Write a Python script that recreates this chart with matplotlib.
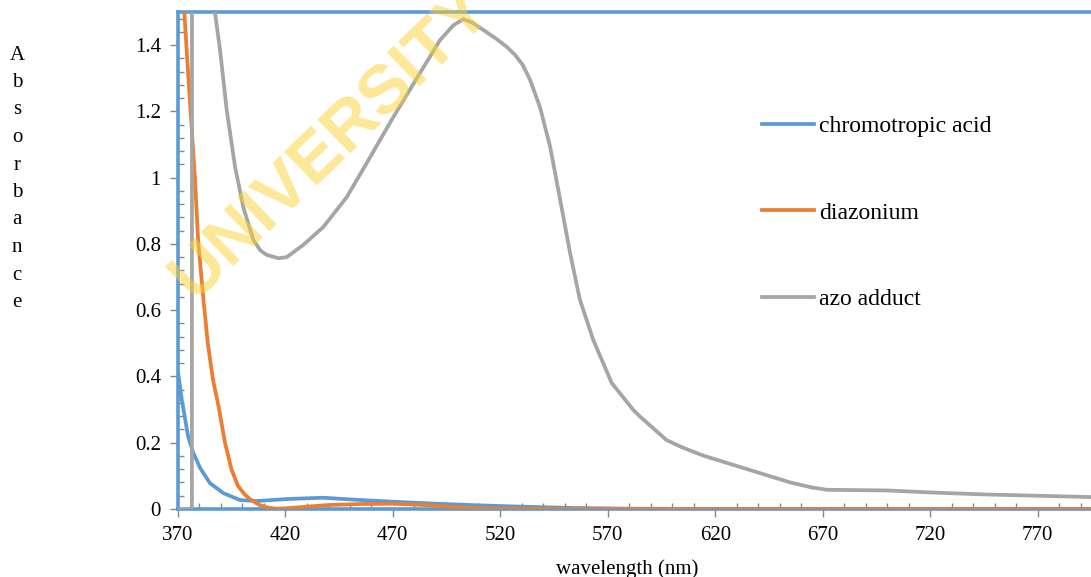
import numpy as np
import matplotlib
matplotlib.use("Agg")
from matplotlib import pyplot as plt
from matplotlib.ticker import MultipleLocator, FuncFormatter

plt.rcParams['font.family'] = ['Liberation Serif', 'DejaVu Serif']

# chromotropic acid
wl_chromo = [370, 371.9, 374.9, 377.3, 380.4, 385, 391.2, 399, 406.7, 420.7, 437.6,
             450, 470, 490, 510, 530, 555, 580, 620, 795]
abs_chromo = [0.42, 0.33, 0.217, 0.169, 0.124, 0.078, 0.048, 0.027, 0.024, 0.03, 0.034,
              0.029, 0.022, 0.016, 0.011, 0.007, 0.003, 0.001, 0.0, 0.0]

# diazonium
wl_diazo = [370, 372, 373.1, 374.5, 376, 378, 379.5, 382, 384, 386.4, 389, 392, 395, 398,
            401, 404, 408, 412, 416, 420, 430, 440, 455, 470, 485, 500, 520, 560, 795]
abs_diazo = [2.5, 1.75, 1.5, 1.35, 1.2, 1.0, 0.81, 0.63, 0.5, 0.39, 0.31, 0.2, 0.12, 0.07,
             0.045, 0.028, 0.012, 0.004, 0.001, 0.002, 0.007, 0.012, 0.015, 0.016, 0.012,
             0.005, 0.001, 0.0, 0.0]

# azo adduct
wl_azo = [370, 376.6, 376.7, 383, 386, 387.3, 389.7, 392.8, 396.7, 400.5, 405.2, 408.5,
          411.4, 416.8, 420.7, 428.4, 437.7, 448.6, 457.9, 470.3, 482.7, 492.0, 498.2,
          502.8, 507, 512.1, 518, 523, 527, 530.5, 533.9, 538.5, 543.2, 547.9, 552.5,
          557.1, 563.3, 571.9, 581.9, 585, 597.4, 605, 615, 625, 635, 645, 655, 665, 672,
          700, 720, 745, 770, 795]
abs_azo = [0.0, 0.0, 4.0, 2.5, 1.75, 1.5, 1.385, 1.204, 1.032, 0.911, 0.812, 0.78,
           0.767, 0.757, 0.76, 0.797, 0.851, 0.941, 1.044, 1.183, 1.316, 1.415, 1.46,
           1.478, 1.468, 1.446, 1.42, 1.395, 1.37, 1.34, 1.295, 1.213, 1.094, 0.933, 0.773,
           0.631, 0.51, 0.38, 0.299, 0.279, 0.208, 0.185, 0.16, 0.14, 0.12, 0.1, 0.08,
           0.065, 0.058, 0.056, 0.05, 0.044, 0.04, 0.036]

labels = ['chromotropic acid', 'diazonium', 'azo adduct']
colors = ['#5b9bd5', '#ed7d31', '#a5a5a5']

fig = plt.figure(figsize=(10.91, 5.77), dpi=100)
ax = fig.add_axes([177.7 / 1091, 1 - 509 / 577, 1 - 177.7 / 1091, 497 / 577])

ax.plot(wl_chromo, abs_chromo, color=colors[0], lw=2.7, label=labels[0], zorder=3)
ax.plot(wl_diazo, abs_diazo, color=colors[1], lw=2.7, label=labels[1], zorder=3)
ax.plot(wl_azo, abs_azo, color=colors[2], lw=2.7, label=labels[2], zorder=3)

ax.set_xlim(370, 794.8)
ax.set_ylim(0, 1.5)
ax.set_xticks(np.arange(370, 771, 50))
ax.xaxis.set_minor_locator(MultipleLocator(10))
ax.set_yticks(np.arange(0, 1.41, 0.2))
ax.yaxis.set_minor_locator(MultipleLocator(0.04))
ax.yaxis.set_major_formatter(FuncFormatter(lambda v, p: f"{v:g}"))

ax.tick_params(which='major', direction='out', length=6, width=1, color='#868686',
               labelsize=15, pad=6)
ax.tick_params(which='minor', direction='in', length=4, width=1, color='#868686')

for side in ['left', 'top', 'bottom']:
    ax.spines[side].set_color(colors[0])
    ax.spines[side].set_linewidth(2.6)
ax.spines['right'].set_visible(False)

ax.legend(loc='center left', bbox_to_anchor=(762 / 1091, 1 - 213 / 577),
          bbox_transform=fig.transFigure, frameon=False, fontsize=17,
          handlelength=2.2, handletextpad=0.2, labelspacing=2.75,
          borderpad=0, borderaxespad=0)

for i, ch in enumerate("Absorbance"):
    fig.text(17 / 1091, 1 - (55 + i * 27.5) / 577, ch, fontsize=15,
             ha='center', va='center')

fig.text(627 / 1091, 1 - 569 / 577, 'wavelength (nm)', fontsize=15,
         ha='center', va='center')

fig.text(332 / 1091, 1 - 143 / 577, 'UNIVERSITY', family='Liberation Sans',
         fontweight='bold', fontsize=50, rotation=44, color='#fcd232', alpha=0.5,
         ha='center', va='center', zorder=10)

fig.savefig('out.png', dpi=100)
